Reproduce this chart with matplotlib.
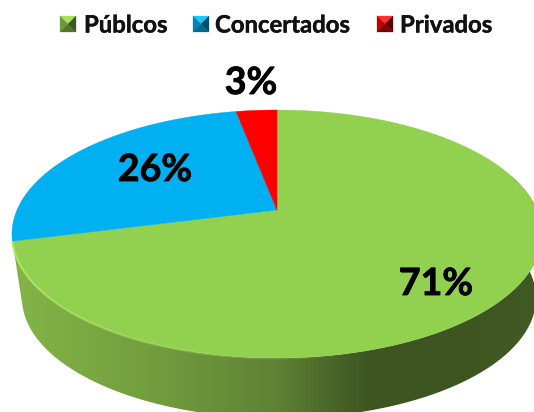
import numpy as np
import matplotlib
matplotlib.use("Agg")
import matplotlib.pyplot as plt
import matplotlib.patheffects as pe
from matplotlib.colors import LinearSegmentedColormap
from matplotlib.patches import Polygon

# Values
categories = ['Públcos', 'Concertados', 'Privados']
shares = [71, 26, 3]
colors = ['#92D050', '#00B0F0', '#FF0000']
key_top = ['#A6E05C', '#1FC4FF', '#FF3030']
key_side = ['#6F9A3C', '#0085B5', '#C00000']
key_low = ['#55752E', '#006A90', '#800000']
key_dark = ['#3F5722', '#004F6C', '#600000']

# Perspective of the disc: apex and rim positions in pixels
cx, cy = 277, 210
persp = 0.1935
ax_x, ax_y = 260, -78.7
depth = 64
shrink = 0.97
shift_x = 2
ell_cy = 234


def disc(t):
    # maps an angle on the round pie to the tilted picture
    x, y = np.cos(t), np.sin(t)
    w = 1 + persp * y
    return cx + ax_x * x / w, (cy + ax_y * y) / w


fig = plt.figure(figsize=(5.34, 4.12), dpi=100)
ax = fig.add_axes([0, 0, 1, 1])
ax.set_xlim(0, 534)
ax.set_ylim(412, 0)
ax.axis('off')

# Wedge angles, clockwise from 12 o'clock
edges = np.pi / 2 - 2 * np.pi * np.cumsum([0] + shares) / sum(shares)

# Side wall of the disc, from hidden behind the right edge round to the left edge
t_top = np.linspace(edges[1], 0.3, 200)
xt, yt = disc(t_top)
t_low = np.linspace(0.3, edges[1], 200)
xb, yb = disc(t_low)
xb = cx + shift_x + (xb - cx) * shrink
yb = ell_cy + (yb - ell_cy) * shrink + depth
wall = Polygon(np.column_stack([np.r_[xt, xb], np.r_[yt, yb]]),
               closed=True, facecolor='none', edgecolor='none')
ax.add_patch(wall)
side_cmap = LinearSegmentedColormap.from_list(
    'side', [(0, '#84B547'), (0.25, '#739F3F'), (0.5, '#5F8335'),
             (0.68, '#3D5621'), (0.85, '#3D5621'), (1, '#415A23')])
im = ax.imshow(np.linspace(0, 1, 256).reshape(1, -1), cmap=side_cmap,
               extent=[13, 534, 412, 0], aspect='auto', zorder=1)
im.set_clip_path(wall)

# Top face
for i in range(len(shares)):
    t = np.linspace(edges[i], edges[i + 1], 300)
    x, y = disc(t)
    ax.add_patch(Polygon(np.column_stack([np.r_[cx, x], np.r_[cy, y]]),
                         closed=True, facecolor=colors[i], edgecolor=colors[i],
                         linewidth=0.3, zorder=2))

# Light rim along the front left, fading out towards the front
t_rim = np.linspace(edges[1], -1.35, 41)
for j in range(40):
    xr, yr = disc(t_rim[j:j + 2])
    ax.plot(xr, yr + 0.5, color='#B4E86A', lw=1.5, zorder=3,
            alpha=1 - j / 40, solid_capstyle='butt')

# Percent labels
label_pos = [(436, 284), (155, 170), (251, 83)]
heavy = [pe.withStroke(linewidth=0.6, foreground='black')]
for v, (lx, ly) in zip(shares, label_pos):
    ax.text(lx, ly, f'{v}%', fontsize=27, fontweight='bold', family='Lato',
            color='black', ha='center', va='center', zorder=4, path_effects=heavy)

# Legend with bevelled keys
key_x = [60, 193, 377]
text_x = [84, 215, 400]
thin = [pe.withStroke(linewidth=0.3, foreground='#111111')]
for i, name in enumerate(categories):
    x0, y0, s = key_x[i], 16, 16
    mid = (x0 + s / 2, y0 + s / 2)
    a, b, c, d = (x0, y0), (x0 + s, y0), (x0 + s, y0 + s), (x0, y0 + s)
    for pts, col in [((a, b), key_top[i]), ((d, a), key_side[i]),
                     ((c, d), key_low[i]), ((b, c), key_dark[i])]:
        ax.add_patch(Polygon([pts[0], pts[1], mid], closed=True, facecolor=col,
                             edgecolor=col, linewidth=0.2, zorder=4))
    ax.text(text_x[i], 25, name, fontsize=17.2, fontweight='bold', family='Lato',
            color='#111111', ha='left', va='center', zorder=4, path_effects=thin)

plt.savefig('out.png', dpi=100)
